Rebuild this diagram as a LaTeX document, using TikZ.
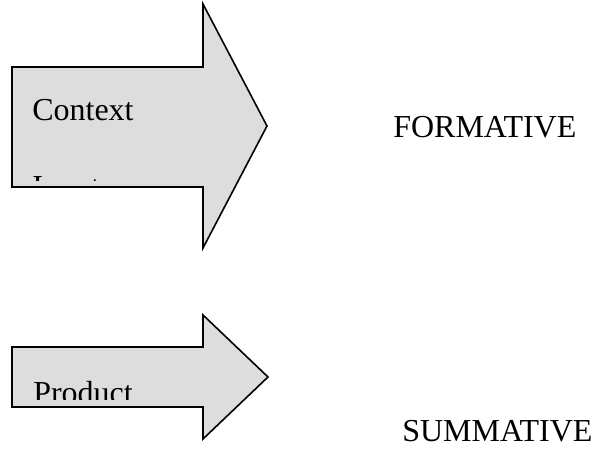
\documentclass[tikz,border=0pt]{standalone}
\usepackage{fontspec}
\setmainfont{Liberation Serif}
\usepackage{tikz}

\definecolor{arrowgray}{RGB}{221,221,221}

\begin{document}
\begin{tikzpicture}[
  x=0.75pt, y=-0.75pt,
  blockarrow/.style={draw=black, line width=1.2pt, fill=arrowgray, line join=miter},
  lbl/.style={anchor=base west, inner sep=0pt, font=\fontsize{24}{28}\selectfont}
]
  \useasboundingbox (0,0) rectangle (601,449);
  % upper arrow
  \draw[blockarrow] (12,67) -- (203,67) -- (203,4) -- (267,126) -- (203,248) -- (203,187) -- (12,187) -- cycle;
  \begin{scope}
    \clip (12,67) rectangle (203,181);
    \node[lbl] (context) at (32,121) {Context};
    \node[lbl] (input) at (32,198) {Input};
  \end{scope}
  % lower arrow
  \draw[blockarrow] (12,347) -- (203,347) -- (203,315) -- (268,377) -- (203,439) -- (203,407) -- (12,407) -- cycle;
  \begin{scope}
    \clip (12,347) rectangle (203,400);
    \node[lbl] (product) at (33,404) {Product};
  \end{scope}
  \node[lbl] (formative) at (393,138) {FORMATIVE};
  \node[lbl] (summative) at (402,442) {SUMMATIVE};
\end{tikzpicture}
\end{document}
